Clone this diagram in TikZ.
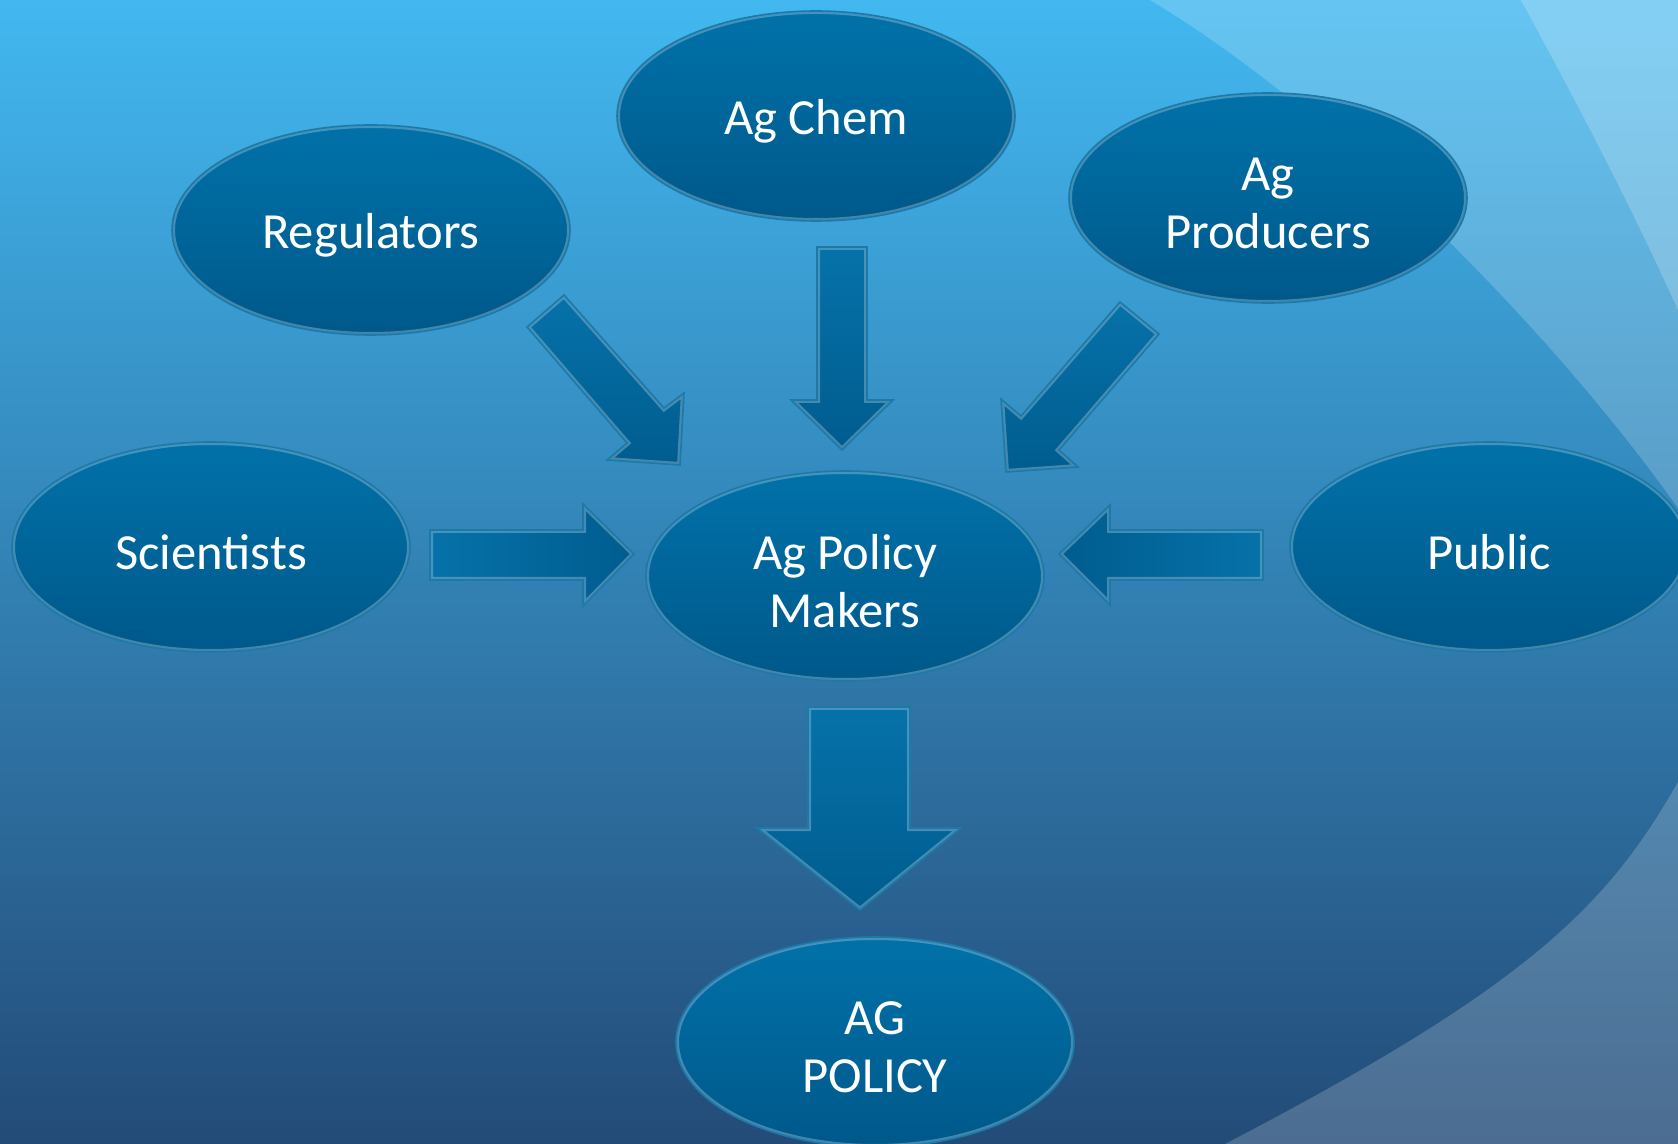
\documentclass[tikz,border=0pt]{standalone}
\usepackage{fontspec}
\setmainfont{Carlito}
\usetikzlibrary{shapes.geometric}
\definecolor{bgtop}{HTML}{42B8F0}
\definecolor{bgmid}{HTML}{368CC2}
\definecolor{bgbot}{HTML}{234B78}
\definecolor{elltop}{HTML}{0072A9}
\definecolor{ellbot}{HTML}{00588A}
\definecolor{arrtop}{HTML}{0672A9}
\definecolor{arrbot}{HTML}{005C8F}
\definecolor{edgecol}{HTML}{1A7BAA}
\definecolor{glowcol}{HTML}{9BBBD0}
\tikzset{
  bubble/.style={ellipse, minimum width=199pt, minimum height=105pt, inner sep=0pt,
    top color=elltop, bottom color=ellbot, draw=edgecol, line width=0.8pt,
    path picture={\draw[glowcol, opacity=0.45, line width=3pt]
      (path picture bounding box.center) ellipse [x radius=99.5pt, y radius=52.5pt];}},
  lbl/.style={text=white, align=center, font=\fontsize{25.3}{29}\selectfont, yshift=-2.6pt},
  vshade/.style={top color=arrtop, bottom color=arrbot},
  rshade/.style={left color=arrtop, right color=arrbot},
  lshade/.style={left color=arrbot, right color=arrtop},
  glowline/.style={glowcol, opacity=0.45, line width=3pt, line join=miter},
  edgeline/.style={draw=edgecol, line width=0.8pt, line join=miter},
  overlay1/.style={white, opacity=0.19},
  overlay2/.style={white, opacity=0.2}
}
\newcommand\blockarrow[2]{%
  \path[#1] #2;
  \begin{scope}\clip #2; \draw[glowline] #2; \end{scope}
  \draw[edgeline] #2;
}
\begin{document}
\begin{tikzpicture}[x=0.5pt, y=-0.5pt]
\useasboundingbox (0,0) rectangle (1678,1144);
\begin{scope}
\clip (0,0) rectangle (1678,1144);
\fill[top color=bgtop, middle color=bgmid, bottom color=bgbot] (0,0) rectangle (1678,1144);
\fill[overlay1] (1130,-13) -- (1150,0) .. controls (1350,120) and (1580,360) .. (1700,540)
  -- (1740,540) -- (1740,-13) -- cycle;
\fill[overlay1] (1740,700) -- (1690,760) .. controls (1615,900) and (1540,980) .. (1225,1144)
  -- (1200,1170) -- (1740,1170) -- cycle;
\fill[overlay2] (1510,-20) .. controls (1570,90) and (1640,220) .. (1700,360)
  -- (1740,360) -- (1740,-20) -- cycle;
\end{scope}

\node[bubble, label={[lbl]center:Ag Chem}] (chem) at (816,116) {};
\node[bubble, label={[lbl]center:Regulators}] (reg) at (371,230) {};
\node[bubble, label={[lbl]center:{Ag\\Producers}}] (prod) at (1268,198) {};
\node[bubble, label={[lbl]center:Scientists}] (sci) at (211,547) {};
\node[bubble, label={[lbl]center:{Ag Policy\\Makers}}] (apm) at (845,576) {};
\node[bubble, label={[lbl]center:Public}] (pub) at (1489,547) {};
\node[bubble, label={[lbl]center:{AG\\POLICY}}] (agp) at (875,1042) {};

% block arrows
\blockarrow{vshade}{(817,247) -- (867,247) -- (867,400) -- (893,400) -- (842,450) -- (791,400) -- (817,400) -- cycle}
\blockarrow{vshade}{(527,327) -- (564,295) -- (664,408) -- (684,393) -- (680,465) -- (607,460) -- (627,443) -- cycle}
\blockarrow{vshade}{(1120,302) -- (1159,334) -- (1059,450) -- (1078,467) -- (1006,472) -- (1001,399) -- (1021,416) -- cycle}
\blockarrow{rshade}{(430,530) -- (583,530) -- (583,504) -- (634,554) -- (583,606) -- (583,580) -- (430,580) -- cycle}
\blockarrow{lshade}{(1263,530) -- (1110,530) -- (1110,505) -- (1059,554) -- (1110,605) -- (1110,580) -- (1263,580) -- cycle}
\blockarrow{vshade}{(808,707) -- (910,707) -- (910,828) -- (961,828) -- (860,910) -- (757,828) -- (808,828) -- cycle}
\end{tikzpicture}
\end{document}
